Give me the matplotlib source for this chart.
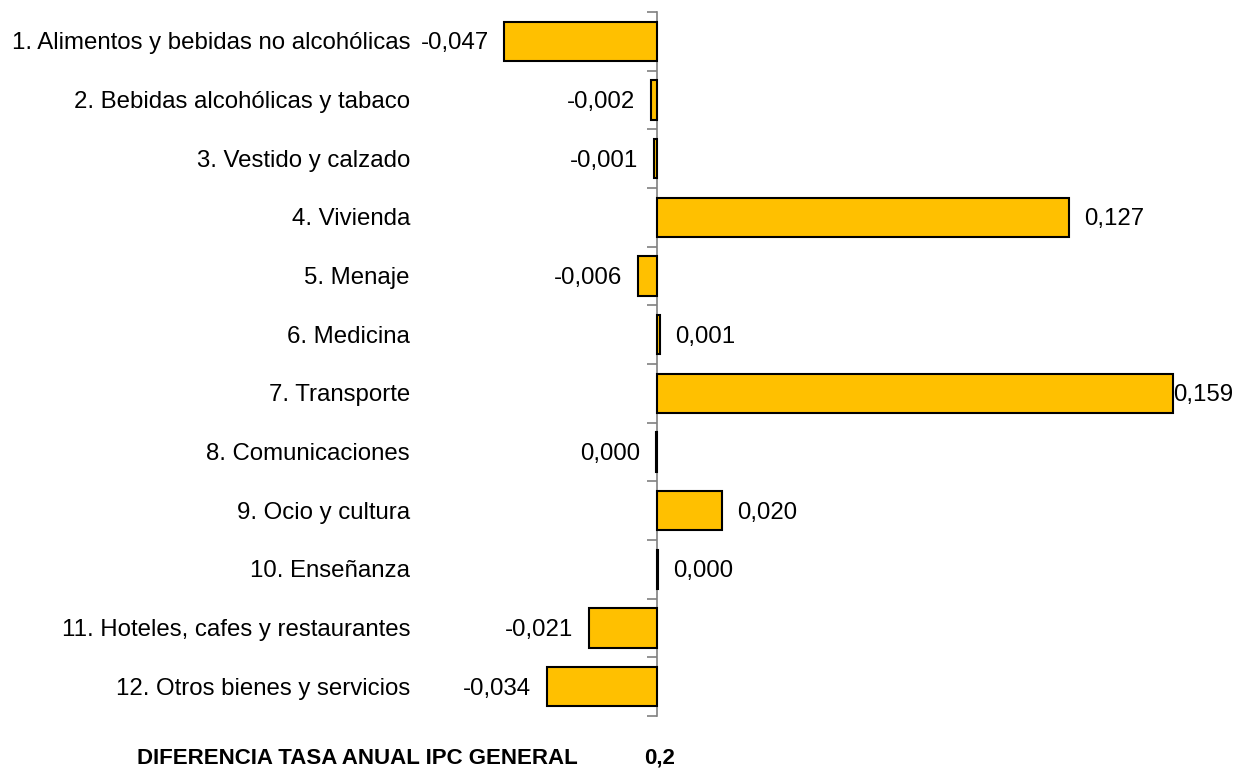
import matplotlib
matplotlib.use("Agg")
import matplotlib.pyplot as plt

categories = [
    "1. Alimentos y bebidas no alcohólicas",
    "2. Bebidas alcohólicas y tabaco",
    "3. Vestido y calzado",
    "4. Vivienda",
    "5. Menaje",
    "6. Medicina",
    "7. Transporte",
    "8. Comunicaciones",
    "9. Ocio y cultura",
    "10. Enseñanza",
    "11. Hoteles, cafes y restaurantes",
    "12. Otros bienes y servicios",
]
values = [-0.047, -0.002, -0.001, 0.127, -0.006, 0.001, 0.159, -0.0003, 0.020, 0.0003, -0.021, -0.034]
value_labels = ["-0,047", "-0,002", "-0,001", "0,127", "-0,006", "0,001", "0,159",
                "0,000", "0,020", "0,000", "-0,021", "-0,034"]
footer_label = "DIFERENCIA TASA ANUAL IPC GENERAL"
footer_value = "0,2"

W, H = 1242, 769
plt.rcParams['font.family'] = ['Liberation Sans', 'DejaVu Sans']
fig = plt.figure(figsize=(W / 100, H / 100), dpi=100)

# axes in pixel terms
left_px, right_px = 420, 1233
top_px, bot_px = 12, 716
zero_px = 657
ax = fig.add_axes([left_px / W, 1 - bot_px / H, (right_px - left_px) / W, (bot_px - top_px) / H])
ppu = 3245.0  # pixels per unit
ax.set_xlim(-(zero_px - left_px) / ppu, (right_px - zero_px) / ppu)
n = len(categories)
ax.set_ylim(n - 0.5, -0.5)

ypos = list(range(n))
ax.barh(ypos, values, height=0.67, color="#FFC000", edgecolor="black", linewidth=1.5, zorder=3)

for s in ["top", "right", "bottom"]:
    ax.spines[s].set_visible(False)
ax.spines["left"].set_position(("data", 0))
ax.spines["left"].set_color("#808080")
ax.spines["left"].set_linewidth(1.2)
ax.set_xticks([])
ax.set_yticks([i - 0.5 for i in range(n + 1)])
ax.set_yticklabels([])
ax.tick_params(axis="y", direction="out", length=7, width=1.2, color="#808080")

fs = 17.3
dy = -1.5
cat_x = (410 - left_px) / (right_px - left_px)
ytr = ax.get_yaxis_transform()
for i, (cat, v, lab) in enumerate(zip(categories, values, value_labels)):
    ax.annotate(cat, (cat_x, i), xycoords=ytr, xytext=(0, dy), textcoords="offset points",
                ha="right", va="center", fontsize=fs, annotation_clip=False)
    if v < 0:
        ax.annotate(lab, (v, i), xytext=(-11, dy), textcoords="offset points",
                    ha="right", va="center", fontsize=fs)
    else:
        end_px = zero_px + v * ppu
        if end_px + 15 + 60 > right_px:
            ax.annotate(lab, (1.0, i), xycoords=ytr, xytext=(0, dy), textcoords="offset points",
                        ha="right", va="center", fontsize=fs, annotation_clip=False)
        else:
            ax.annotate(lab, (v, i), xytext=(11, dy), textcoords="offset points",
                        ha="left", va="center", fontsize=fs)

fig.text(578 / W, 1 - 758 / H, footer_label, ha="right", va="center", fontsize=16, fontweight="bold")
fig.text(660 / W, 1 - 758 / H, footer_value, ha="center", va="center", fontsize=16, fontweight="bold")

fig.savefig("out.png", dpi=100)
